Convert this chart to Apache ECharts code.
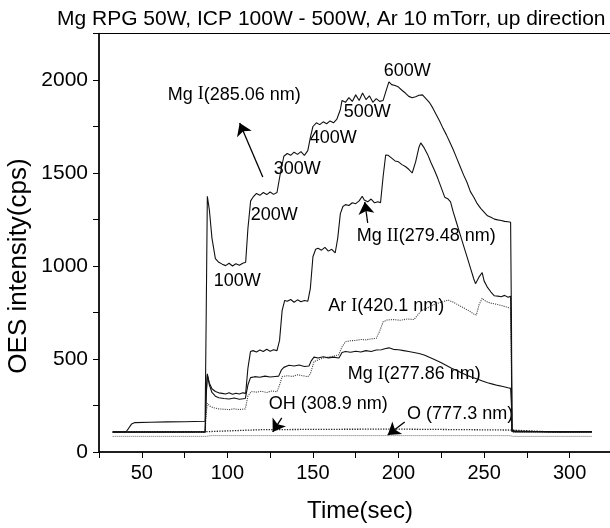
<!DOCTYPE html>
<html>
<head>
<meta charset="utf-8">
<script src="https://cdn.jsdelivr.net/npm/echarts@6/dist/echarts.min.js"></script>
<style>
  html, body { margin: 0; padding: 0; background: #fff; }
  #chart { width: 610px; height: 528px; }
</style>
</head>
<body>
<div id="chart"></div>
<script>
// OES traces, [time (sec), intensity (cps)]
var mgI285 = [[33,108],[41,110],[44,150],[46,158],[55,160],[65,162],[75,163],[87,165],[87.6,700],[88.3,1375],[89.5,1300],[91,1150],[93,1040],[95,1020],[97,1010],[99,1002],[101,1015],[103,1000],[105,1012],[107,1004],[109,1015],[110.7,1020],[112,1200],[113.6,1350],[115,1370],[117,1390],[119,1380],[121,1395],[123,1384],[125,1398],[127,1385],[129,1395],[131,1500],[133,1590],[135,1605],[137,1595],[139,1612],[141,1600],[143,1615],[145,1595],[147,1620],[148.6,1695],[150,1750],[152,1770],[154,1760],[156,1775],[158,1765],[160,1780],[162,1770],[164,1790],[166,1840],[167,1890],[169,1880],[171,1905],[173,1885],[175,1920],[177,1890],[179,1930],[181,1895],[183,1915],[185,1880],[187,1900],[189,1885],[191,1890],[193,1950],[194.4,1990],[196,1975],[198,1970],[200,1962],[202,1945],[204,1930],[206,1912],[208,1905],[210,1910],[212,1918],[214,1920],[216,1900],[218,1880],[220,1850],[222,1815],[224,1780],[226,1740],[228,1705],[230,1665],[232,1625],[234,1580],[236,1535],[238,1490],[240,1450],[242,1400],[244,1370],[246,1335],[248,1310],[250,1290],[252,1270],[254,1262],[256,1252],[258,1248],[260,1245],[262,1240],[264,1238],[265.5,1235],[266,700],[266.3,120],[268,112],[280,110],[295,108],[313,110]];

var mgII279 = [[33,106],[60,107],[87,108],[87.6,300],[88.3,415],[89.5,370],[91,340],[93,325],[95,318],[97,315],[99,312],[101,318],[103,310],[105,316],[107,312],[109,318],[110.7,315],[112,450],[113.5,540],[115,545],[117,538],[119,548],[121,540],[123,552],[125,542],[127,550],[129,545],[130.5,600],[132,760],[133.5,815],[135,810],[137,820],[139,805],[141,818],[143,808],[145,815],[147,810],[148.5,880],[150,1050],[151.6,1090],[153,1095],[155,1085],[157,1100],[159,1080],[161,1090],[163,1070],[164.5,1150],[166,1280],[167.5,1320],[169,1330],[171,1325],[173,1340],[175,1335],[177,1350],[178.8,1375],[180,1355],[182,1345],[184,1360],[186,1340],[188,1345],[189.5,1340],[191,1480],[192.5,1597],[194,1595],[196,1580],[198,1565],[200,1560],[202,1545],[204,1535],[206,1520],[208,1500],[210,1560],[212,1640],[213,1662],[215,1635],[217,1600],[219,1555],[221,1515],[223,1470],[225,1420],[227,1370],[229,1360],[230.4,1345],[232,1290],[234,1230],[236,1170],[238,1110],[240,1050],[242,990],[244,930],[245,905],[247,940],[248.9,965],[250,920],[252,885],[254,860],[256,840],[258,838],[260,835],[262,842],[264,832],[265.5,838],[266,500],[266.3,115],[268,110],[313,108]];

var arI420 = [[33,105],[87,105],[87.6,200],[88.3,262],[90,245],[92,238],[95,232],[98,230],[101,228],[104,232],[107,228],[110.5,232],[112,300],[114,325],[117,322],[120,326],[123,320],[126,328],[129,324],[130.5,360],[132,405],[135,410],[138,406],[141,415],[144,410],[147,405],[148.5,420],[150.6,486],[153,495],[156,505],[159,510],[162,515],[165,522],[167,565],[169,593],[172,598],[175,600],[178,605],[181,603],[184,608],[187,611],[189,650],[191,700],[193.4,710],[197,712],[201,708],[205,715],[209,712],[212,745],[214,763],[217,775],[220,790],[223,800],[226,808],[229,817],[232,805],[235,790],[238,775],[241,760],[244,742],[245.5,737],[247,790],[248.9,826],[251,810],[254,800],[257,795],[260,788],[263,780],[265.5,773],[266,400],[266.3,108],[313,106]];

var mgI277 = [[33,108],[87,108],[87.6,300],[88.3,420],[89.5,360],[91,320],[93,300],[95,292],[98,288],[101,285],[104,290],[107,284],[110.5,288],[112,360],[113.5,400],[116,405],[119,402],[122,408],[125,403],[128,406],[130,408],[131.5,440],[133,455],[136,466],[139,462],[142,468],[145,460],[147.7,462],[149,490],[150.6,510],[153,505],[156,512],[159,506],[162,510],[165.2,505],[167,535],[169,540],[172,536],[175,542],[178,538],[181,545],[184,540],[187,548],[190,550],[192,555],[194.4,560],[197,552],[200,550],[203,545],[206,540],[209,535],[212,530],[215,522],[218,510],[221.6,495],[225,480],[228,465],[231,450],[234,438],[237,425],[240,412],[243,402],[246,392],[249,382],[252,372],[255,365],[258,358],[261,352],[264,345],[265.5,342],[266,250],[266.3,110],[268,108],[313,108]];

var oh309 = [[33,108],[60,110],[87,109],[88,118],[120,120],[160,122],[200,123],[240,120],[266,118],[267,110],[290,108],[313,109]];
var o777 = [[33,84],[88,84],[90,88],[265,88],[267,84],[313,84]];

var xTicks = [50, 100, 150, 200, 250, 300];
var yTicks = [0, 500, 1000, 1500, 2000];

// text notes, anchored in data coordinates
var notes = [
  [104.3, 1919, 'Mg {r|I}(285.06 nm)'],
  [106.1, 914, '100W'],
  [127.7, 1269, '200W'],
  [141.1, 1516, '300W'],
  [162.2, 1683, '400W'],
  [182.0, 1823, '500W'],
  [205.4, 2043, '600W'],
  [216.5, 1156, 'Mg {r|II}(279.48 nm)'],
  [193.1, 780, 'Ar {r|I}(420.1 nm)'],
  [209.5, 414, 'Mg {r|I}(277.86 nm)'],
  [159.2, 253, 'OH (308.9 nm)'],
  [236.3, 199, 'O (777.3 nm)']
];
// arrows: [from, to]
var arrows = [
  [[120.7, 1478], [107.2, 1769]],
  [[182.0, 1231], [180.3, 1344]],
  [[131.8, 183], [126.5, 108]],
  [[203.6, 161], [193.7, 91]]
];

var FONT = 'Liberation Sans';
var chart = echarts.init(document.getElementById('chart'));

function line(data, type, color, width) {
  return {
    type: 'line', data: data, symbol: 'none', silent: true,
    lineStyle: { color: color, width: width, type: type }
  };
}

chart.setOption({
  animation: false,
  backgroundColor: '#fff',
  title: {
    text: 'Mg RPG 50W, ICP 100W - 500W, Ar 10 mTorr, up direction',
    left: 52, top: 4,
    textStyle: { fontFamily: FONT, fontSize: 21, fontWeight: 'normal', color: '#000' }
  },
  grid: {
    left: 99, top: 33.5, width: 522, height: 418.5, outerBoundsMode: 'none',
    show: true, borderColor: '#000', borderWidth: 1
  },
  xAxis: {
    type: 'value', min: 25, max: 330, interval: 25,
    name: 'Time(sec)', nameLocation: 'middle', nameGap: 47,
    nameTextStyle: { fontFamily: FONT, fontSize: 24, color: '#000' },
    axisLine: { lineStyle: { color: '#000', width: 1.5 } },
    axisTick: { inside: false, length: 6, lineStyle: { color: '#000' } },
    axisLabel: {
      margin: 11, fontFamily: FONT, fontSize: 20, color: '#000', showMaxLabel: false,
      formatter: function (v) { return xTicks.indexOf(v) >= 0 ? String(v) : ''; }
    },
    splitLine: { show: false }
  },
  yAxis: {
    type: 'value', min: 0, max: 2250, interval: 250,
    axisLine: { show: true, lineStyle: { color: '#000', width: 1.5 } },
    axisTick: { show: true, length: 6, lineStyle: { color: '#000' } },
    axisLabel: {
      margin: 11, fontFamily: FONT, fontSize: 21, color: '#000',
      formatter: function (v) { return yTicks.indexOf(v) >= 0 ? String(v) : ''; }
    },
    splitLine: { show: false }
  },
  graphic: [{
    type: 'text', x: 19, y: 266, rotation: Math.PI / 2,
    style: { text: 'OES intensity(cps)', font: '26px "Liberation Sans"', fill: '#000',
             textAlign: 'center', textVerticalAlign: 'middle' }
  }],
  series: [
    line(o777, 'dotted', '#666', 1),
    line(oh309, 'dotted', '#222', 1.3),
    line(arI420, 'dotted', '#444', 1.1),
    line(mgI277, 'solid', '#111', 1.1),
    line(mgII279, 'solid', '#111', 1.1),
    line(mgI285, 'solid', '#111', 1.1),
    {
      type: 'scatter', silent: true, symbolSize: 1,
      itemStyle: { color: 'rgba(0,0,0,0)', opacity: 1 },
      data: notes.map(function (n) { return { value: [n[0], n[1]], name: n[2] }; }),
      label: {
        show: true, position: [0, 0], align: 'center', verticalAlign: 'middle',
        formatter: function (p) { return p.name; }, opacity: 1,
        fontFamily: FONT, fontSize: 18, color: '#000', textBorderWidth: 0,
        rich: { r: { fontFamily: 'Liberation Serif', fontSize: 18, color: '#000' } }
      },
      markLine: {
        silent: true, symbol: ['none', 'arrow'], symbolSize: 12,
        lineStyle: { color: '#000', width: 1.3, type: 'solid' },
        itemStyle: { color: '#000' },
        label: { show: false },
        data: arrows.map(function (a) { return [{ coord: a[0] }, { coord: a[1] }]; })
      }
    }
  ]
});
</script>
</body>
</html>
